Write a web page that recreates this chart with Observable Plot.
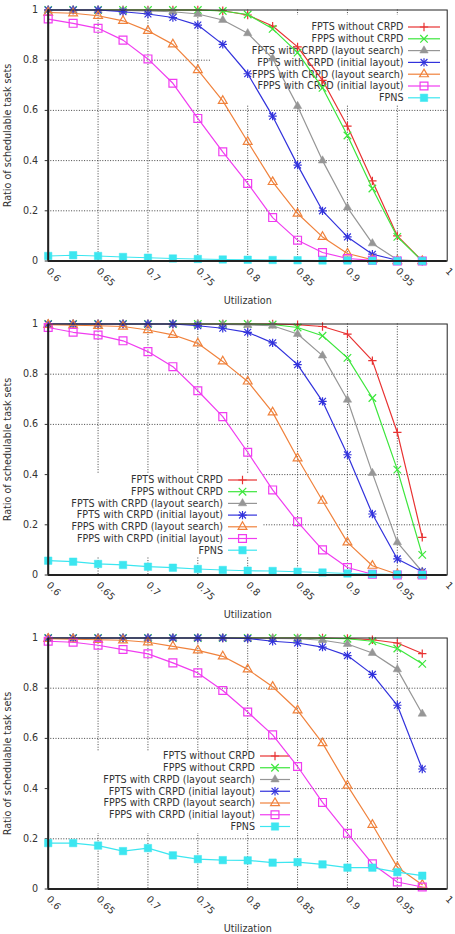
<!DOCTYPE html>
<html>
<head>
<meta charset="utf-8">
<script src="https://cdn.jsdelivr.net/npm/d3@7"></script>
<script src="https://cdn.jsdelivr.net/npm/@observablehq/plot@0.6"></script>
<style>
  body { margin: 0; background: #fff; }
  #chart { width: 455px; }
  #chart svg { display: block; }
</style>
</head>
<body>
<div id="chart"></div>
<script>
// ---------- data ----------
const utilization = [0.6, 0.625, 0.65, 0.675, 0.7, 0.725, 0.75, 0.775, 0.8, 0.825, 0.85, 0.875, 0.9, 0.925, 0.95, 0.975];
const xTickValues = [0.6, 0.65, 0.7, 0.75, 0.8, 0.85, 0.9, 0.95, 1];
const yTickValues = [0, 0.2, 0.4, 0.6, 0.8, 1];
const seriesNames = [
  "FPTS without CRPD",
  "FPPS without CRPD",
  "FPTS with CRPD (layout search)",
  "FPTS with CRPD (initial layout)",
  "FPPS with CRPD (layout search)",
  "FPPS with CRPD (initial layout)",
  "FPNS"
];
const seriesColors = ["#e83232", "#3ce63c", "#969696", "#3232dc", "#f0823c", "#f03cf0", "#3ce6f0"];

// Panel 1 (top)
const top_fptsNoCrpd   = [1, 1, 1, 1, 1, 1, 1, 0.997, 0.98, 0.936, 0.853, 0.72, 0.537, 0.319, 0.10, 0];
const top_fppsNoCrpd   = [1, 1, 1, 1, 1, 1, 1, 0.996, 0.982, 0.925, 0.83, 0.69, 0.50, 0.289, 0.096, 0];
const top_fptsSearch   = [1, 1, 1, 0.998, 0.996, 0.993, 0.984, 0.96, 0.907, 0.807, 0.617, 0.40, 0.213, 0.07, 0.005, 0];
const top_fptsInitial  = [1, 1, 1, 0.993, 0.984, 0.97, 0.94, 0.863, 0.746, 0.577, 0.382, 0.20, 0.096, 0.027, 0.003, 0];
const top_fppsSearch   = [0.99, 0.987, 0.977, 0.957, 0.917, 0.863, 0.761, 0.638, 0.475, 0.315, 0.189, 0.096, 0.03, 0.005, 0, 0];
const top_fppsInitial  = [0.964, 0.947, 0.927, 0.88, 0.805, 0.708, 0.568, 0.435, 0.309, 0.173, 0.083, 0.034, 0.01, 0.003, 0, 0];
const top_fpns         = [0.02, 0.023, 0.02, 0.016, 0.013, 0.01, 0.008, 0.006, 0.005, 0.004, 0.003, 0.002, 0.002, 0.001, 0, 0];

// Panel 2 (middle)
const mid_fptsNoCrpd   = [1, 1, 1, 1, 1, 1, 1, 1, 1, 1, 0.997, 0.99, 0.96, 0.854, 0.568, 0.15];
const mid_fppsNoCrpd   = [1, 1, 1, 1, 1, 1, 1, 1, 1, 0.998, 0.986, 0.953, 0.865, 0.705, 0.42, 0.08];
const mid_fptsSearch   = [1, 1, 1, 1, 1, 1, 1, 0.998, 0.996, 0.993, 0.96, 0.874, 0.698, 0.406, 0.13, 0.013];
const mid_fptsInitial  = [1, 1, 1, 1, 1, 1, 0.993, 0.983, 0.967, 0.925, 0.838, 0.692, 0.479, 0.243, 0.064, 0.013];
const mid_fppsSearch   = [0.997, 0.995, 0.993, 0.99, 0.976, 0.957, 0.923, 0.851, 0.771, 0.648, 0.465, 0.296, 0.13, 0.037, 0.003, 0];
const mid_fppsInitial  = [0.986, 0.967, 0.956, 0.933, 0.89, 0.83, 0.734, 0.631, 0.489, 0.339, 0.212, 0.1, 0.03, 0.003, 0, 0];
const mid_fpns         = [0.057, 0.053, 0.044, 0.04, 0.033, 0.029, 0.024, 0.02, 0.017, 0.016, 0.013, 0.01, 0.006, 0.004, 0.002, 0.001];

// Panel 3 (bottom)
const bot_fptsNoCrpd   = [1, 1, 1, 1, 1, 1, 1, 1, 1, 1, 1, 1, 0.998, 0.993, 0.98, 0.938];
const bot_fppsNoCrpd   = [1, 1, 1, 1, 1, 1, 1, 1, 1, 1, 1, 0.999, 0.997, 0.987, 0.958, 0.897];
const bot_fptsSearch   = [1, 1, 1, 1, 1, 1, 1, 1, 0.998, 0.998, 0.997, 0.991, 0.976, 0.94, 0.875, 0.698];
const bot_fptsInitial  = [1, 1, 1, 1, 1, 1, 1, 1, 0.998, 0.987, 0.98, 0.964, 0.93, 0.855, 0.732, 0.478];
const bot_fppsSearch   = [0.997, 0.995, 0.993, 0.991, 0.983, 0.967, 0.951, 0.927, 0.875, 0.806, 0.712, 0.581, 0.412, 0.256, 0.087, 0.017];
const bot_fppsInitial  = [0.987, 0.983, 0.971, 0.954, 0.937, 0.901, 0.861, 0.791, 0.705, 0.614, 0.488, 0.345, 0.222, 0.1, 0.028, 0.008];
const bot_fpns         = [0.183, 0.183, 0.173, 0.151, 0.163, 0.134, 0.119, 0.115, 0.114, 0.105, 0.107, 0.098, 0.085, 0.085, 0.067, 0.053];

// ---------- styling ----------
const FONT = "DejaVu Sans";
const TEXT_COLOR = "#333";
// marker specs per series: list of [symbol, filled, r]
const markerSpecs = [
  [["plus", false, 2.8]],
  [["times", false, 3.5]],
  [["triangle", true, 3.1]],
  [["plus", false, 2.8], ["times", false, 3.2]],
  [["triangle2", false, 4.2]],
  [["square2", false, 5.0]],
  [["square", true, 4.2]]
];
const d3Symbols = {
  plus: d3.symbolPlus, times: d3.symbolTimes, triangle: d3.symbolTriangle,
  triangle2: d3.symbolTriangle2, square: d3.symbolSquare, square2: d3.symbolSquare2
};

function legendMark(L) {
  return (index, scales, values, dims) => {
    const g = d3.create("svg:g");
    g.append("rect")
      .attr("x", L.x0).attr("y", L.y0)
      .attr("width", L.x1 - L.x0).attr("height", L.y1 - L.y0)
      .attr("fill", "#fff");
    seriesNames.forEach((name, i) => {
      const y = L.first + i * L.step;
      g.append("text")
        .attr("x", L.textRight).attr("y", y).attr("dy", "0.35em")
        .attr("text-anchor", "end")
        .attr("font-family", FONT).attr("font-size", "9.6px")
        .attr("fill", TEXT_COLOR)
        .text(name);
      g.append("line")
        .attr("x1", L.sample).attr("x2", L.sample + L.sampleLen)
        .attr("y1", y).attr("y2", y)
        .attr("stroke", seriesColors[i]).attr("stroke-width", 1.2);
      markerSpecs[i].forEach(([sym, filled, r]) => {
        g.append("path")
          .attr("transform", `translate(${L.sample + L.sampleLen / 2},${y})`)
          .attr("d", d3.symbol(d3Symbols[sym], Math.PI * r * r)())
          .attr("fill", filled ? seriesColors[i] : "none")
          .attr("stroke", seriesColors[i])
          .attr("stroke-width", filled ? 0.5 : 1.2);
      });
    });
    return g.node();
  };
}

function panel(series, height, marginBottom, legend) {
  const marks = [];
  // grid
  marks.push(Plot.ruleX(xTickValues.filter(d => d > 0.6 && d < 1), {
    stroke: "#444", strokeDasharray: "1,1.6", strokeWidth: 1
  }));
  marks.push(Plot.ruleY(yTickValues.filter(d => d > 0 && d < 1), {
    stroke: "#444", strokeDasharray: "1,1.6", strokeWidth: 1
  }));
  // legend
  marks.push(legendMark(legend));
  // data
  series.forEach((vals, i) => {
    const rows = vals.map((v, j) => ({u: utilization[j], r: v}));
    marks.push(Plot.line(rows, {x: "u", y: "r", stroke: seriesColors[i], strokeWidth: 1.2}));
    markerSpecs[i].forEach(([sym, filled, r]) => {
      marks.push(Plot.dot(rows, {
        x: "u", y: "r", symbol: sym, r,
        fill: filled ? seriesColors[i] : "none",
        stroke: seriesColors[i], strokeWidth: filled ? 0.5 : 1.2
      }));
    });
  });
  // frame & axes lines
  marks.push(Plot.frame({stroke: "#222", strokeWidth: 1}));
  marks.push(Plot.ruleX([0.6], {stroke: "#222", strokeWidth: 2}));
  marks.push(Plot.ruleY([0], {stroke: "#222", strokeWidth: 2}));
  // rotated x tick labels
  marks.push(Plot.text(xTickValues, {
    x: d => d, text: d => String(d), frameAnchor: "bottom",
    rotate: 45, textAnchor: "start", lineAnchor: "middle",
    dx: 0, dy: 8.5, fill: TEXT_COLOR, fontSize: 9.6
  }));
  // axis titles
  marks.push(Plot.text(["Utilization"], {
    frameAnchor: "bottom", dy: 39.5, text: d => d, fill: TEXT_COLOR, fontSize: 9.6,
    textAnchor: "middle", lineAnchor: "middle"
  }));
  marks.push(Plot.text(["Ratio of schedulable task sets"], {
    frameAnchor: "left", dx: -40.5, rotate: -90, text: d => d, fill: TEXT_COLOR, fontSize: 9.6,
    textAnchor: "middle", lineAnchor: "middle"
  }));
  return Plot.plot({
    width: 455,
    height,
    marginLeft: 47.7,
    marginRight: 8.3,
    marginTop: 9.5,
    marginBottom,
    style: {fontFamily: FONT, fontSize: "9.6px", color: TEXT_COLOR, background: "#fff"},
    x: {domain: [0.6, 1], axis: null},
    y: {domain: [0, 1], ticks: yTickValues, tickFormat: d => String(d), tickSize: 3, tickPadding: 7, label: null},
    marks
  });
}

const chart = document.getElementById("chart");
chart.appendChild(panel(
  [top_fptsNoCrpd, top_fppsNoCrpd, top_fptsSearch, top_fptsInitial, top_fppsSearch, top_fppsInitial, top_fpns],
  314, 53.5,
  {x0: 211, x1: 446.7, y0: 15, y1: 105, first: 27, step: 11.8, textRight: 403.5, sample: 408, sampleLen: 32}
));
chart.appendChild(panel(
  [mid_fptsNoCrpd, mid_fppsNoCrpd, mid_fptsSearch, mid_fptsInitial, mid_fppsSearch, mid_fppsInitial, mid_fpns],
  314, 53.5,
  {x0: 47.7, x1: 262, y0: 159, y1: 243, first: 166, step: 11.7, textRight: 223, sample: 228, sampleLen: 29}
));
chart.appendChild(panel(
  [bot_fptsNoCrpd, bot_fppsNoCrpd, bot_fptsSearch, bot_fptsInitial, bot_fppsSearch, bot_fppsInitial, bot_fpns],
  306, 45.5,
  {x0: 47.7, x1: 295, y0: 123, y1: 205, first: 128, step: 11.75, textRight: 255, sample: 260, sampleLen: 30}
));
</script>
</body>
</html>
